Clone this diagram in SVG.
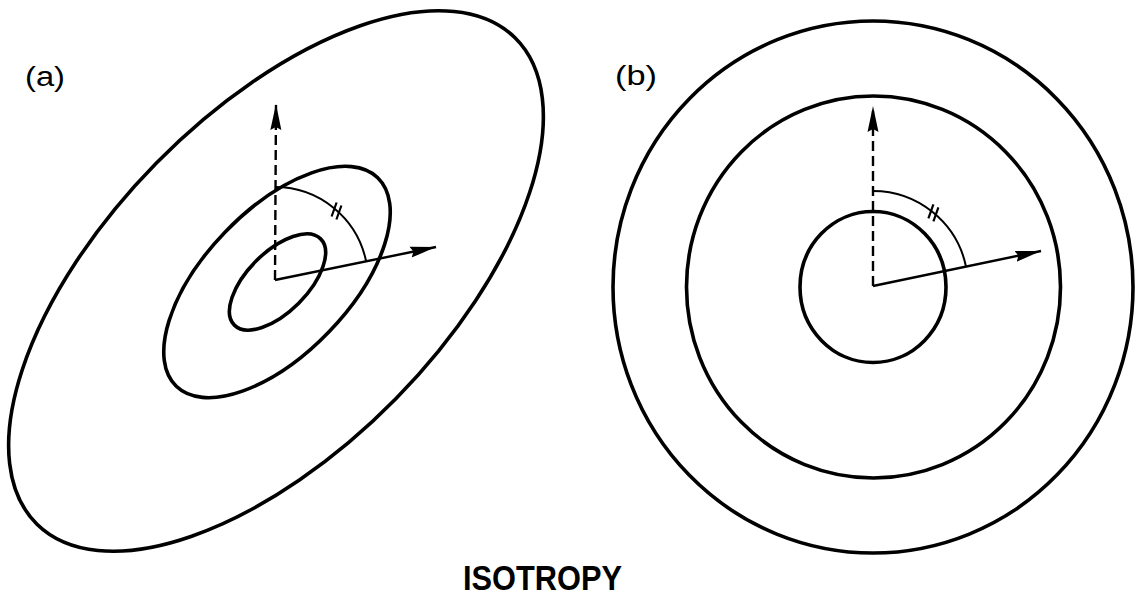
<svg xmlns="http://www.w3.org/2000/svg" width="1135" height="597" viewBox="0 0 1135 597">
  <style>
    .curve { fill: none; stroke: #000; stroke-width: 3.6; }
    .vec { fill: none; stroke: #000; stroke-width: 2.4; }
    .dash { fill: none; stroke: #000; stroke-width: 2.4; stroke-dasharray: 10 5; }
    .arc { fill: none; stroke: #000; stroke-width: 2; }
    .tick { fill: none; stroke: #000; stroke-width: 2.2; }
    .label { font-family: "Liberation Sans", Arial, sans-serif; font-size: 27px; fill: #000; }
    .title { font-family: "Liberation Sans", Arial, sans-serif; font-size: 35px; font-weight: bold; fill: #000; }
  </style>
  <defs>
    <marker id="head" viewBox="0 0 26 12" refX="26" refY="6" markerWidth="26" markerHeight="12" markerUnits="userSpaceOnUse" orient="auto">
      <path d="M0,0.5 L26,6 L0,11.5 L3,6 z" fill="#000"/>
    </marker>
  </defs>
  <rect width="1135" height="597" fill="#fff"/>

  <g id="panel-a">
    <text class="label" x="25" y="86" textLength="40" lengthAdjust="spacingAndGlyphs">(a)</text>
    <g id="a-outer"><ellipse class="curve" cx="276" cy="281" rx="341" ry="168" transform="rotate(-45.5 276 281)"/></g>
    <g id="a-middle"><ellipse class="curve" cx="277" cy="282" rx="145" ry="72" transform="rotate(-46 277 282)"/></g>
    <g id="a-inner"><ellipse class="curve" cx="277.5" cy="282" rx="61" ry="30" transform="rotate(-45 277.5 282)"/></g>
    <g id="a-angle">
      <path class="arc" d="M275,187 A93,93 0 0 1 366.1,261.3"/>
      <path class="tick" d="M331.6,216.5 L336.6,202.5 M336.4,219.5 L341.4,205.5"/>
    </g>
  </g>

  <g id="panel-b">
    <text class="label" x="615" y="85" textLength="42" lengthAdjust="spacingAndGlyphs">(b)</text>
    <g id="b-outer"><ellipse class="curve" cx="873" cy="287" rx="260" ry="266"/></g>
    <g id="b-middle"><ellipse class="curve" cx="873.5" cy="287" rx="187" ry="191"/></g>
    <g id="b-inner"><ellipse class="curve" cx="873" cy="287" rx="73" ry="75.5"/></g>
    <g id="b-angle">
      <path class="arc" d="M873,191 A95,95 0 0 1 966,266.6"/>
      <path class="tick" d="M928.4,218.3 L933.4,204.3 M933.4,221.3 L938.4,207.3"/>
    </g>
  </g>

  <g id="connectors">
    <path class="dash" d="M275,280 L276,104" marker-end="url(#head)"/>
    <path class="vec" d="M275,280 L436,247" marker-end="url(#head)"/>
    <path class="dash" d="M873,286 L873,106" marker-end="url(#head)"/>
    <path class="vec" d="M873,286 L1041,251" marker-end="url(#head)"/>
  </g>

  <text class="title" x="463" y="590" textLength="159" lengthAdjust="spacingAndGlyphs">ISOTROPY</text>
</svg>
